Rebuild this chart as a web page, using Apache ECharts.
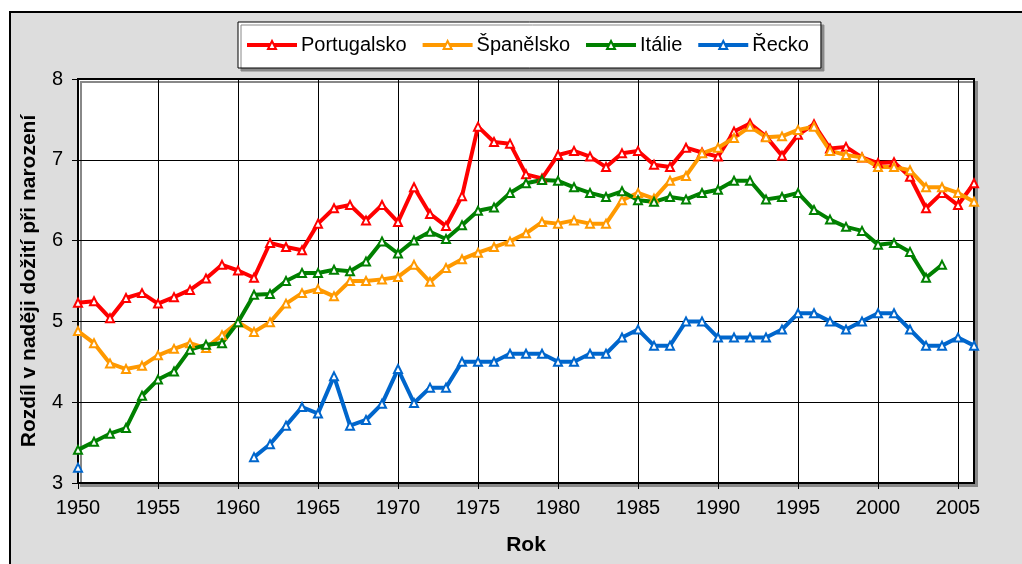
<!DOCTYPE html>
<html>
<head>
	<meta charset="UTF-8">
	<title>Rozdíl v naději dožití</title>
	<script src="https://cdn.jsdelivr.net/npm/echarts@6/dist/echarts.min.js"></script>
	<style>
		html, body { margin: 0; padding: 0; background: #fff; }
	</style>
</head>
<body>
	<div id="main" style="width: 1022px; height: 564px;"></div>
	<script>
		// roky (kategorie osy x)
		var years = ['1950', '1951', '1952', '1953', '1954', '1955', '1956', '1957', '1958', '1959',
			'1960', '1961', '1962', '1963', '1964', '1965', '1966', '1967', '1968', '1969',
			'1970', '1971', '1972', '1973', '1974', '1975', '1976', '1977', '1978', '1979',
			'1980', '1981', '1982', '1983', '1984', '1985', '1986', '1987', '1988', '1989',
			'1990', '1991', '1992', '1993', '1994', '1995', '1996', '1997', '1998', '1999',
			'2000', '2001', '2002', '2003', '2004', '2005', '2006'];

		var portugalsko = [5.23, 5.25, 5.04, 5.29, 5.35, 5.22, 5.30, 5.39, 5.53, 5.70,
			5.63, 5.54, 5.97, 5.92, 5.88, 6.21, 6.40, 6.44, 6.25, 6.44,
			6.23, 6.66, 6.33, 6.18, 6.55, 7.41, 7.22, 7.20, 6.82, 6.77,
			7.06, 7.11, 7.04, 6.91, 7.08, 7.11, 6.94, 6.91, 7.15, 7.09,
			7.04, 7.35, 7.45, 7.29, 7.05, 7.31, 7.44, 7.14, 7.16, 7.03,
			6.96, 6.97, 6.79, 6.40, 6.59, 6.44, 6.71];

		var spanelsko = [4.88, 4.73, 4.48, 4.41, 4.45, 4.58, 4.66, 4.73, 4.67, 4.83,
			4.99, 4.87, 4.99, 5.22, 5.35, 5.40, 5.31, 5.50, 5.50, 5.52,
			5.55, 5.70, 5.49, 5.66, 5.77, 5.85, 5.92, 5.99, 6.09, 6.23,
			6.21, 6.25, 6.21, 6.21, 6.50, 6.59, 6.52, 6.74, 6.80, 7.08,
			7.15, 7.27, 7.41, 7.28, 7.29, 7.37, 7.41, 7.11, 7.06, 7.03,
			6.91, 6.91, 6.87, 6.66, 6.66, 6.59, 6.48];

		var italie = [3.41, 3.51, 3.61, 3.68, 4.08, 4.28, 4.38, 4.65, 4.71, 4.73,
			4.99, 5.33, 5.34, 5.50, 5.60, 5.60, 5.64, 5.62, 5.74, 5.99,
			5.84, 6.00, 6.11, 6.02, 6.19, 6.37, 6.41, 6.59, 6.71, 6.75,
			6.74, 6.66, 6.59, 6.54, 6.61, 6.50, 6.48, 6.54, 6.51, 6.59,
			6.63, 6.74, 6.74, 6.51, 6.54, 6.59, 6.38, 6.26, 6.17, 6.12,
			5.95, 5.97, 5.86, 5.54, 5.70, null, null];

		var recko = [3.19, null, null, null, null, null, null, null, null, null,
			null, 3.32, 3.48, 3.71, 3.94, 3.86, 4.32, 3.71, 3.78, 3.98,
			4.41, 3.99, 4.18, 4.18, 4.5, 4.5, 4.5, 4.6, 4.6, 4.6,
			4.5, 4.5, 4.6, 4.6, 4.8, 4.9, 4.7, 4.7, 5.0, 5.0,
			4.8, 4.8, 4.8, 4.8, 4.9, 5.1, 5.1, 5.0, 4.9, 5.0,
			5.1, 5.1, 4.9, 4.7, 4.7, 4.8, 4.7];

		var yTicks = [3, 4, 5, 6, 7, 8];

		var font = 'Liberation Sans, Arial, sans-serif';
		var myChart = echarts.init(document.getElementById('main'));

		function serie(name, color, data) {
			return {
				name: name,
				type: 'line',
				data: data,
				connectNulls: false,
				symbol: 'emptyTriangle',
				symbolSize: 8,
				showAllSymbol: true,
				lineStyle: { color: color, width: 4 },
				itemStyle: { color: color, borderColor: color, borderWidth: 1.5 },
				emphasis: { disabled: true },
				animation: false
			};
		}

		var option = {
			backgroundColor: '#fff',
			animation: false,
			graphic: [{
				type: 'rect',
				z: -100,
				shape: { x: 10, y: 12, width: 1030, height: 570 },
				style: { fill: '#dddddd', stroke: '#000', lineWidth: 2 }
			}],
			legend: {
				left: 238,
				top: 22,
				width: 600,
				padding: [13, 12, 13, 7],
				itemWidth: 50,
				itemHeight: 10,
				itemGap: 14,
				backgroundColor: '#fff',
				borderColor: '#000',
				borderWidth: 1,
				shadowColor: '#888',
				shadowOffsetX: 3,
				shadowOffsetY: 3,
				shadowBlur: 0,
				lineStyle: { width: 4 },
				textStyle: { fontFamily: font, fontSize: 20, color: '#000', padding: [0, 0, 0, -1] },
				data: ['Portugalsko', 'Španělsko', 'Itálie', 'Řecko']
			},
			grid: {
				left: 78,
				right: 48,
				top: 79,
				bottom: 81,
				show: true,
				backgroundColor: '#fff',
				borderColor: '#000',
				borderWidth: 2,
				shadowColor: '#888',
				shadowOffsetX: 3,
				shadowOffsetY: 3,
				shadowBlur: 0
			},
			xAxis: {
				type: 'category',
				data: years,
				boundaryGap: false,
				name: 'Rok',
				nameLocation: 'middle',
				nameGap: 52,
				nameTextStyle: { fontFamily: font, fontSize: 21, fontWeight: 'bold', color: '#000' },
				axisLine: { lineStyle: { color: '#000', width: 2 } },
				axisTick: { interval: 4, length: 6, lineStyle: { color: '#000', width: 1 } },
				axisLabel: { interval: 4, fontFamily: font, fontSize: 20, color: '#000', margin: 15 },
				splitLine: { show: true, interval: 4, lineStyle: { color: '#000', width: 1 } }
			},
			yAxis: {
				type: 'value',
				min: yTicks[0],
				max: yTicks[yTicks.length - 1],
				interval: 1,
				name: 'Rozdíl v naději dožití při narození',
				nameLocation: 'middle',
				nameRotate: 90,
				nameGap: 38,
				nameTextStyle: { fontFamily: font, fontSize: 21, fontWeight: 'bold', color: '#000' },
				axisLine: { show: true, lineStyle: { color: '#000', width: 2 } },
				axisTick: { show: true, length: 6, lineStyle: { color: '#000', width: 1 } },
				axisLabel: { fontFamily: font, fontSize: 20, color: '#000', margin: 15 },
				splitLine: { show: true, lineStyle: { color: '#000', width: 1 } }
			},
			series: [
				serie('Portugalsko', '#ff0000', portugalsko),
				serie('Španělsko', '#ff9900', spanelsko),
				serie('Itálie', '#008000', italie),
				serie('Řecko', '#0066cc', recko)
			]
		};

		myChart.setOption(option);
	</script>
</body>
</html>
